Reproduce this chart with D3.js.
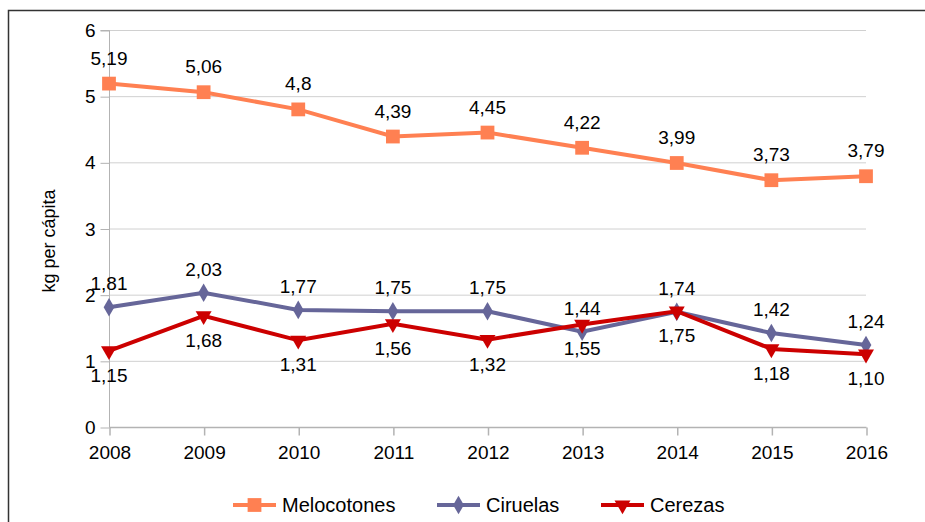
<!DOCTYPE html>
<html>
<head>
<meta charset="utf-8">
<script src="https://cdn.jsdelivr.net/npm/d3@7"></script>
<style>
  body { margin: 0; background: #fff; }
  text { font-family: "Liberation Sans", Arial, sans-serif; fill: #000; }
</style>
</head>
<body>
<svg id="chart" width="925" height="522"></svg>
<script>
"use strict";

var years = ["2008", "2009", "2010", "2011", "2012", "2013", "2014", "2015", "2016"];
var melocotones = [5.19, 5.06, 4.8, 4.39, 4.45, 4.22, 3.99, 3.73, 3.79];
var ciruelas = [1.81, 2.03, 1.77, 1.75, 1.75, 1.44, 1.74, 1.42, 1.24];
var cerezas = [1.15, 1.68, 1.31, 1.56, 1.32, 1.55, 1.75, 1.18, 1.10];
var yTicks = [0, 1, 2, 3, 4, 5, 6];
var labels = ["Melocotones", "Ciruelas", "Cerezas"];
var labelsOut = [
    ["5,19", "5,06", "4,8", "4,39", "4,45", "4,22", "3,99", "3,73", "3,79"],
    ["1,81", "2,03", "1,77", "1,75", "1,75", "1,44", "1,74", "1,42", "1,24"],
    ["1,15", "1,68", "1,31", "1,56", "1,32", "1,55", "1,75", "1,18", "1,10"]
];

var series = [
    { name: labels[0], values: melocotones, color: "#ff8052", symbol: d3.symbolSquare, size: 190, rot: 0, dy: -19 },
    { name: labels[1], values: ciruelas, color: "#666699", symbol: d3.symbolDiamond, size: 100, rot: 0, dy: -17 },
    { name: labels[2], values: cerezas, color: "#cc0000", symbol: d3.symbolTriangle, size: 110, rot: 180, dy: 31 }
];

var svg = d3.select("#chart");

svg.append("rect")
    .attr("x", 8.5).attr("y", 10.5)
    .attr("width", 940).attr("height", 540)
    .attr("fill", "none")
    .attr("stroke", "#333")
    .attr("stroke-width", 1.5);

var x = d3.scalePoint().domain(years).range([109, 866]);
var y = d3.scaleLinear().domain([0, 6]).range([427, 30]);

// grid
svg.append("g")
    .selectAll("line")
    .data(yTicks.slice(1))
    .enter().append("line")
    .attr("x1", 109).attr("x2", 866)
    .attr("y1", function (d) { return y(d) + 0.5; })
    .attr("y2", function (d) { return y(d) + 0.5; })
    .attr("stroke", "#d0d0d0")
    .attr("stroke-width", 1);

// y axis
var yAxis = svg.append("g")
    .attr("transform", "translate(109.5,0.5)")
    .call(d3.axisLeft(y).tickValues(yTicks).tickFormat(d3.format("d")).tickSize(9).tickPadding(5));
yAxis.selectAll("line, path").attr("stroke", "#b3b3b3");
yAxis.select(".domain").attr("d", "M-9," + y(6) + "H0V" + y(0));
yAxis.selectAll("text").attr("font-size", 19).attr("font-family", "Liberation Sans, Arial, sans-serif");

// x axis
var xAxis = svg.append("g")
    .attr("transform", "translate(0.5," + (y(0) + 0.5) + ")")
    .call(d3.axisBottom(x).tickSize(8).tickPadding(10));
xAxis.selectAll("line, path").attr("stroke", "#b3b3b3").attr("stroke-width", 1.5);
xAxis.select(".domain").attr("d", "M" + x(years[0]) + ",0H" + x(years[years.length - 1]));
xAxis.selectAll("text").attr("font-size", 19).attr("font-family", "Liberation Sans, Arial, sans-serif");

svg.append("text")
    .attr("transform", "translate(55,241) rotate(-90)")
    .attr("text-anchor", "middle")
    .attr("font-size", 18)
    .text("kg per cápita");

var line = d3.line()
    .x(function (d, i) { return x(years[i]); })
    .y(function (d) { return y(d); });

series.forEach(function (s, k) {
    var g = svg.append("g");
    g.append("path")
        .datum(s.values)
        .attr("d", line)
        .attr("fill", "none")
        .attr("stroke", s.color)
        .attr("stroke-width", 4);
    g.selectAll(".mk")
        .data(s.values)
        .enter().append("path")
        .attr("class", "mk")
        .attr("d", d3.symbol().type(s.symbol).size(s.size))
        .attr("transform", function (d, i) {
            return "translate(" + x(years[i]) + "," + y(d) + ") rotate(" + s.rot + ")";
        })
        .attr("fill", s.color);
    g.selectAll(".lbl")
        .data(s.values)
        .enter().append("text")
        .attr("class", "lbl")
        .attr("x", function (d, i) { return x(years[i]); })
        .attr("y", function (d) { return y(d) + s.dy; })
        .attr("text-anchor", "middle")
        .attr("font-size", 19)
        .text(function (d, i) { return labelsOut[k][i]; });
});

// legend
var legendX = [233, 437, 601];
var leg = svg.append("g");
series.forEach(function (s, k) {
    var lg = leg.append("g").attr("transform", "translate(" + legendX[k] + ",505)");
    lg.append("line")
        .attr("x1", 0).attr("x2", 43)
        .attr("stroke", s.color).attr("stroke-width", 4);
    lg.append("path")
        .attr("d", d3.symbol().type(s.symbol).size(s.size))
        .attr("transform", "translate(21.5,0) rotate(" + s.rot + ")")
        .attr("fill", s.color);
    lg.append("text")
        .attr("x", 49).attr("y", 7)
        .attr("font-size", 20)
        .text(s.name);
});
</script>
</body>
</html>
